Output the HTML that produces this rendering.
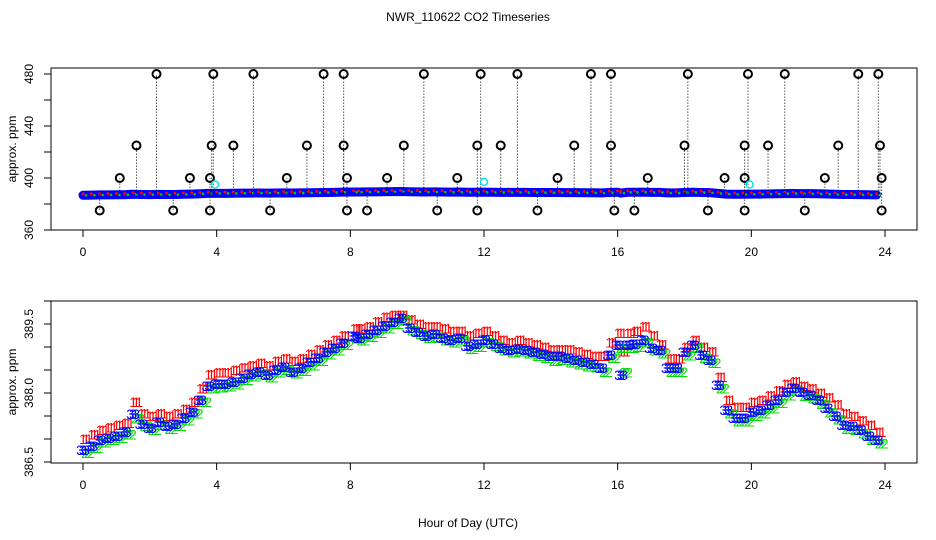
<!DOCTYPE html>
<html><head><meta charset="utf-8"><style>
html,body{margin:0;padding:0;background:#fff;}
svg{display:block;font-family:"Liberation Sans","DejaVu Sans",sans-serif;}
</style></head><body>
<svg id="chart" width="936" height="540" viewBox="0 0 936 540">
<text x="468" y="21" font-size="12" text-anchor="middle">NWR_110622  CO2 Timeseries</text>
<text x="468" y="527" font-size="12" text-anchor="middle">Hour of Day (UTC)</text>
<g id="topPanel"></g>
<g id="botPanel"></g>
</svg>
<script>
const hours=[0,0.25,0.5,0.75,1,1.25,1.5,1.75,2,2.25,2.5,2.75,3,3.25,3.5,3.75,4,4.25,4.5,4.75,5,5.25,5.5,5.75,6,6.25,6.5,6.75,7,7.25,7.5,7.75,8.1,8.25,8.5,8.75,9,9.25,9.5,9.75,10,10.25,10.5,10.75,11,11.25,11.5,11.75,12,12.25,12.5,12.75,13,13.25,13.5,13.75,14,14.25,14.5,14.75,15,15.25,15.5,15.75,16,16.1,16.3,16.5,16.75,17,17.25,17.5,17.75,18,18.25,18.5,18.75,19,19.25,19.5,19.75,20,20.25,20.5,20.75,21,21.25,21.5,21.75,22,22.25,22.5,22.75,23,23.25,23.5,23.75];
const blueVals=[386.76,386.85,386.98,387.02,387.07,387.15,387.54,387.33,387.24,387.37,387.28,387.33,387.46,387.59,387.85,388.15,388.2,388.2,388.24,388.33,388.41,388.46,388.39,388.5,388.57,388.46,388.54,388.67,388.76,388.89,388.98,389.09,389.24,389.2,389.28,389.37,389.46,389.54,389.63,389.41,389.33,389.24,389.28,389.2,389.15,389.2,389.02,389.07,389.15,389.07,388.98,388.93,388.96,388.93,388.89,388.85,388.8,388.8,388.76,388.72,388.67,388.63,388.54,388.83,389.04,388.39,389.04,389.07,389.15,388.98,388.93,388.54,388.54,388.89,389.04,388.83,388.72,388.17,387.63,387.46,387.46,387.59,387.63,387.74,387.85,388.02,388.11,388.02,387.96,387.85,387.67,387.5,387.3,387.28,387.2,387.07,386.98];
const redVals=[387.0,387.1,387.2,387.25,387.3,387.35,387.8,387.55,387.5,387.55,387.5,387.55,387.65,387.8,388.1,388.4,388.45,388.45,388.5,388.55,388.6,388.65,388.6,388.7,388.75,388.7,388.75,388.85,388.95,389.05,389.15,389.25,389.4,389.4,389.45,389.55,389.65,389.7,389.7,389.6,389.5,389.45,389.45,389.4,389.35,389.35,389.25,389.3,389.35,389.25,389.15,389.1,389.15,389.1,389.05,389.0,388.95,388.95,388.95,388.9,388.85,388.8,388.8,389.1,389.3,388.9,389.3,389.35,389.45,389.25,389.05,388.75,388.75,389.0,389.15,389.0,388.9,388.35,387.85,387.7,387.7,387.8,387.85,387.95,388.05,388.2,388.25,388.15,388.1,388.0,387.9,387.75,387.55,387.5,387.4,387.3,387.15];
const greenVals=[386.7,386.8,386.92,386.98,387.02,387.1,387.45,387.28,387.2,387.3,387.22,387.28,387.4,387.55,387.8,388.1,388.12,388.14,388.18,388.28,388.36,388.4,388.34,388.45,388.5,388.42,388.48,388.6,388.7,388.84,388.92,389.04,389.18,389.14,389.22,389.3,389.4,389.5,389.58,389.36,389.28,389.2,389.22,389.14,389.1,389.14,388.96,389.0,389.1,389.02,388.92,388.88,388.9,388.86,388.8,388.76,388.7,388.72,388.66,388.62,388.58,388.55,388.46,388.76,388.98,388.45,388.98,389.0,389.1,388.92,388.86,388.46,388.46,388.82,388.98,388.76,388.65,388.1,387.55,387.38,387.38,387.5,387.55,387.66,387.78,387.95,388.04,387.94,387.88,387.76,387.58,387.42,387.22,387.2,387.12,386.98,386.9];
const out480=[2.2,3.9,5.1,7.2,7.8,10.2,11.9,13.0,15.2,15.8,18.1,19.9,21.0,23.2,23.8];
const out425=[1.6,3.85,4.5,6.7,7.8,9.6,11.8,12.5,14.7,15.8,18.0,19.8,20.5,22.6,23.85];
const out400=[1.1,3.2,3.8,6.1,7.9,9.1,11.2,14.2,16.9,19.2,19.8,22.2,23.9];
const out375=[0.5,2.7,3.8,5.6,7.9,8.5,10.6,11.8,13.6,15.9,16.5,18.7,19.8,21.6,23.9];
const cyanHours=[3.95,12.0,19.95];
const cyanVals=[395,397,395];
const xTicks=[0,4,8,12,16,20,24];
const topYTicks=[360,380,400,420,440,460,480];
const topYLabels=[360,400,440,480];
const botYTicks=[386.5,387,387.5,388,388.5,389,389.5,390];
const botYLabels=["386.5","388.0","389.5"];

const NS="http://www.w3.org/2000/svg";
const X0=51,X1=917;
const xs=h=>83+h*(885-83)/24;
const yTop=v=>74+(480-v)*1.3;
const yBot=v=>462-(v-386.5)*46;
function mk(tag,attrs,parent,txt){const e=document.createElementNS(NS,tag);for(const k in attrs)e.setAttribute(k,attrs[k]);if(txt!==undefined)e.textContent=txt;parent.appendChild(e);return e;}

function axes(g,y0,y1,yfn,yt,yl,labelTxt,name){
  const box=mk('rect',{x:X0,y:y0,width:X1-X0,height:y1-y0,fill:'none',stroke:'#000','stroke-width':1},g);
  
  
  xTicks.forEach(t=>{
    const l=mk('line',{x1:xs(t),x2:xs(t),y1:y1,y2:y1+7,stroke:'#000'},g);
    
    
    const tx=mk('text',{x:xs(t),y:y1+26,'font-size':12,'text-anchor':'middle'},g,String(t));
    
    
  });
  yt.forEach(t=>{
    const l=mk('line',{x1:X0-7,x2:X0,y1:yfn(t),y2:yfn(t),stroke:'#000'},g);
    
    
  });
  yl.forEach(t=>{
    const y=yfn(parseFloat(t));
    const tx=mk('text',{x:0,y:0,'font-size':12,'text-anchor':'middle',transform:`translate(33,${y}) rotate(-90)`},g,String(t));
    
    
  });
  const yl2=mk('text',{x:0,y:0,'font-size':12,'text-anchor':'middle',transform:`translate(16,${(y0+y1)/2}) rotate(-90)`},g,labelTxt);
  
  
}

const topG=document.getElementById('topPanel');
const botG=document.getElementById('botPanel');
axes(topG,68,230,yTop,topYTicks,topYLabels,'approx. ppm','top');
axes(botG,301,463,yBot,botYTicks,botYLabels,'approx. ppm','bottom');

let pts=hours.map((h,i)=>xs(h)+','+yTop(blueVals[i])).join(' ');
const band=mk('polyline',{points:pts,fill:'none',stroke:'#0000ff','stroke-width':9,'stroke-linecap':'round','stroke-linejoin':'round'},topG);


hours.forEach((h,i)=>{
  const r=mk('circle',{cx:xs(h),cy:yTop(redVals[i])-1,r:1.5,fill:'#ff0000'},topG);
  
  
  const gr=mk('circle',{cx:xs(h)+3,cy:yTop(greenVals[i]),r:1.3,fill:'#00cc00'},topG);
  
  
});
[[out480,480],[out425,425],[out400,400],[out375,375]].forEach(([arr,v])=>{
  arr.forEach(h=>{
    const l=mk('line',{x1:xs(h),x2:xs(h),y1:yTop(388),y2:yTop(v),stroke:'#000','stroke-dasharray':'1,2'},topG);
    
    
    const c=mk('circle',{cx:xs(h),cy:yTop(v),r:4,fill:'none',stroke:'#000','stroke-width':2},topG);
    
    
  });
});
cyanHours.forEach((h,i)=>{
  const c=mk('circle',{cx:xs(h),cy:yTop(cyanVals[i]),r:3.5,fill:'none',stroke:'#00e5ee','stroke-width':1.5},topG);
  
  
});

function chars(vals,ch,col,dx,name){
  hours.forEach((h,i)=>{
    [-0.09,0,0.09].forEach(o=>{
      const t=mk('text',{x:xs(h+o)+dx,y:yBot(vals[i])+5,'font-size':14,fill:col,'text-anchor':'middle'},botG,ch);
      
      
    });
  });
}
chars(redVals,'1','#ff0000',3,'series-1-point');
chars(greenVals,'2','#00dd00',5,'series-2-point');
chars(blueVals,'3','#0000ff',0,'series-3-point');
</script>
</body></html>
